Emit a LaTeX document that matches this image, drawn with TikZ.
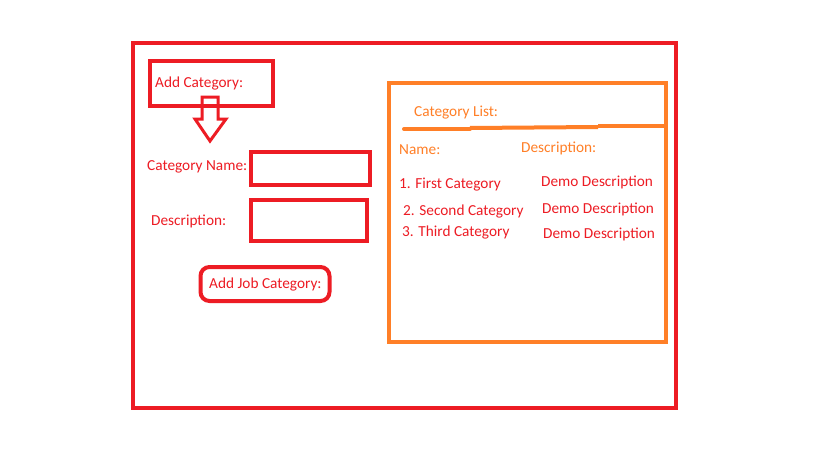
\documentclass[tikz,border=0pt]{standalone}
\usepackage{fontspec}
\setmainfont{Carlito}
\definecolor{pred}{HTML}{ED1C24}
\definecolor{porange}{HTML}{FF7F27}
\begin{document}
\begin{tikzpicture}[x=1pt,y=-1pt,
  box/.style={draw=pred,line width=4pt,inner sep=0pt,minimum width=#1},
  obox/.style={draw=porange,line width=4pt,inner sep=0pt},
  lbl/.style={text=pred,inner sep=0pt,anchor=west,font=\fontsize{15.3}{17}\selectfont},
  olbl/.style={text=porange,inner sep=0pt,anchor=west,font=\fontsize{15.3}{17}\selectfont}]
\useasboundingbox[fill=white] (0,0) rectangle (819,460);
% outer frame
\node[box=543pt,minimum height=365pt] (frame) at (404.5,225.5) {};
% add category
\node[box=123pt,minimum height=45pt] (addbox) at (211.5,83.5) {};
\node[lbl] (addtxt) at (155,83.5) {Add Category:};
% hollow arrow
\draw[pred,line width=3pt,line join=miter] (202,97) -- (218,97) -- (218,119) -- (226,119) -- (210,141) -- (195,119) -- (202,119) -- cycle;
% fields
\node[lbl] (nametxt) at (147,166.5) {Category Name:};
\node[box=119pt,minimum height=33pt] (namebox) at (310,168) {};
\node[lbl] (desctxt) at (151,221.5) {Description:};
\node[box=116pt,minimum height=41pt] (descbox) at (308.5,220) {};
\node[draw=pred,line width=4pt,rounded corners=9pt,minimum width=129pt,minimum height=34pt,inner sep=0pt] (jobbox) at (265,284) {};
\node[lbl] (jobtxt) at (209,284.5) {Add Job Category:};
% category list panel
\node[obox,minimum width=277pt,minimum height=259pt] (panel) at (527.5,212.5) {};
\node[olbl] (listtxt) at (414,112.5) {Category List:};
\draw[porange,line width=4pt,line cap=round] (404,129) -- (470,129);
\draw[porange,line width=4pt] (470,128) -- (598,127);
\draw[porange,line width=4pt] (598,126) -- (666,126);
\node[olbl] (namehdr) at (399,149.5) {Name:};
\node[olbl] (deschdr) at (521,148.5) {Description:};
\node[lbl] (r1n) at (399,184.5) {1. First Category};
\node[lbl] (r1d) at (541,182.5) {Demo Description};
\node[lbl] (r2n) at (403,211.5) {2. Second Category};
\node[lbl] (r2d) at (542,209.5) {Demo Description};
\node[lbl] (r3n) at (402,232.5) {3. Third Category};
\node[lbl] (r3d) at (543,234.5) {Demo Description};
\end{tikzpicture}
\end{document}
